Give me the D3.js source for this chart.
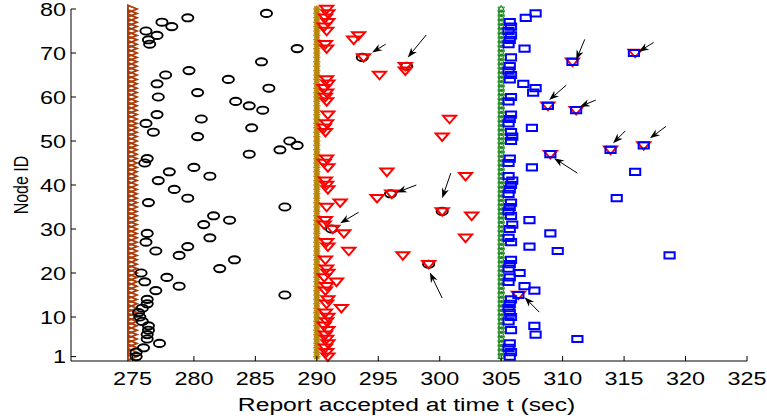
<!DOCTYPE html>
<meta charset="utf-8">
<script src="https://d3js.org/d3.v7.min.js"></script>
<style>
  body { margin: 0; background: #fff; }
  svg { display: block; }
  text { font-family: "Liberation Sans", Arial, sans-serif; fill: #000; }
</style>
<div id="chart"></div>
<script>
// time each round of reports was sent (every node sends at that time)
const roundStart = [275, 290, 305];
const nodeIds = d3.range(1, 81);

// time each node's report was accepted: [node, t]
const round1 = [
  [1,275.3],[2,275.3],[3,275.9],[4,277.2],[5,276.2],[6,276.2],[7,276.3],[8,276.3],[9,275.8],[10,275.6],
  [11,275.5],[12,275.8],[13,276.2],[14,276.2],[15,287.4],[16,276.9],[17,278.8],[18,276.0],[19,277.8],[20,275.7],
  [21,282.1],[22,299.1],[23,283.3],[24,278.8],[25,276.9],[26,279.5],[27,276.1],[28,281.3],[29,276.2],[30,291.2],
  [31,280.8],[32,282.9],[33,281.6],[34,300.2],[35,287.4],[36,276.3],[37,279.5],[38,296.0],[39,278.4],
  [41,277.1],[42,281.3],[43,278.0],[44,280.0],[45,276.0],[46,276.2],[47,284.5],[48,287.0],[49,288.4],[50,287.8],
  [51,280.3],[52,276.7],[53,284.7],[54,276.1],[55,280.6],[56,277.0],[57,285.6],[58,284.5],[59,283.4],[60,277.1],
  [61,280.3],[62,286.1],[63,277.0],[64,282.8],[65,277.7],[66,279.6],[67,297.3],[68,285.5],[69,293.7],
  [71,288.4],[72,276.4],[73,276.3],[74,277.0],[75,276.1],[76,278.2],[77,277.4],[78,279.5],[79,285.9]
];
const round2 = [
  [1,290.9],[2,290.8],[3,290.7],[4,290.9],[5,290.8],[6,290.7],[7,290.9],[8,290.6],[9,290.8],[10,290.9],
  [11,290.7],[12,292.0],[13,290.8],[14,290.9],[15,306.4],[16,290.7],[17,290.8],[18,291.6],[19,290.6],[20,290.9],
  [21,290.8],[22,299.1],[23,290.7],[24,297.0],[25,292.6],[26,290.9],[27,290.8],[28,302.1],[29,292.2],[30,291.3],
  [31,290.6],[32,290.7],[33,302.6],[34,300.2],[35,290.8],[36,291.9],[37,294.9],[38,296.1],[39,290.9],[40,290.8],
  [41,290.7],[42,302.1],[43,295.7],[44,290.9],[45,290.6],[46,290.8],[47,309.0],[48,313.9],[49,316.6],
  [51,300.2],[52,290.7],[53,290.6],[54,290.8],[55,300.8],[56,290.9],[57,311.1],[58,308.8],[59,290.8],[60,290.7],
  [61,290.8],[62,290.6],[63,290.9],[64,290.8],[65,295.1],[66,297.2],[67,297.2],[68,310.8],[69,293.8],[70,315.9],
  [71,290.8],[72,290.7],[73,293.0],[74,293.4],[75,290.8],[76,290.6],[77,290.9],[78,290.7],[79,290.9],[80,290.8]
];
const round3 = [
  [1,305.7],[2,305.8],[3,305.6],[4,305.7],[5,311.2],[6,307.8],[7,305.8],[8,307.7],[9,305.6],[10,305.8],
  [11,305.7],[12,305.6],[13,305.7],[14,305.8],[15,306.4],[16,307.7],[17,306.9],[18,305.6],[19,305.7],[20,306.5],
  [21,305.6],[22,305.7],[23,305.8],[24,318.7],[25,309.6],[26,307.3],[27,305.8],[28,305.6],[29,309.0],[30,305.7],
  [31,305.9],[32,307.3],[33,305.8],[34,305.6],[35,305.7],[36,305.8],[37,314.4],[38,305.6],[39,305.7],[40,305.8],
  [41,305.9],[42,305.6],[43,315.9],[44,307.5],[45,305.6],[46,305.7],[47,309.0],[48,313.9],[49,316.6],[50,305.8],
  [51,305.9],[52,305.8],[53,307.5],[54,305.6],[55,305.7],[56,305.8],[57,311.1],[58,308.8],[59,305.6],[60,305.8],
  [61,307.6],[62,307.8],[63,306.8],[64,305.7],[65,305.8],[66,305.6],[67,305.7],[68,310.8],[69,305.8],[70,315.8],
  [71,306.9],[72,305.6],[73,305.7],[74,305.8],[75,305.6],[76,305.8],[77,305.7],[78,307.0],[79,307.8]
];

// arrows pointing at overlapped reports: [tFrom, nodeFrom, tTo, nodeTo]
const arrows = [
  [295.6,72.0,294.5,70.1],[298.9,74.1,297.4,69.0],[298.1,40.0,296.5,38.3],[300.9,42.7,300.2,37.0],
  [293.4,33.8,291.9,31.3],[300.2,14.3,299.2,20.1],[311.8,73.1,311.1,68.4],[317.4,72.4,316.2,70.3],
  [310.3,62.7,308.9,59.3],[312.7,59.3,311.4,57.8],[315.1,52.3,314.1,49.5],[318.4,53.3,317.1,50.6],
  [311.2,42.7,309.3,46.1],[308.1,11.1,306.9,14.5]
];

const xTicks = [275, 280, 285, 290, 295, 300, 305, 310, 315, 320, 325];
const yTicks = [1, 10, 20, 30, 40, 50, 60, 70, 80];

const W = 767, H = 419;
const margin = {top: 9, right: 20, bottom: 58, left: 71};
const width = W - margin.left - margin.right,
      height = H - margin.top - margin.bottom;
const stretch = 1.3; // text in the picture is wider than tall

const svg = d3.select("#chart").append("svg")
    .attr("width", W).attr("height", H);
const g = svg.append("g")
    .attr("transform", "translate(" + margin.left + "," + margin.top + ")");

const x = d3.scaleLinear().domain([270, 325]).range([0, width]);
const y = d3.scaleLinear().domain([0, 80]).range([height, 0]);

// marker shapes (picture is stretched horizontally)
const tri_right = "M-4.5,-3.6L4.5,0L-4.5,3.6Z";
const tri_down = "M-6.5,-3.2L6.5,-3.2L0,4.3Z";
const square = "M-5.1,-3.1H5.1V3.1H-5.1Z";
const star = "M-3.6,0H3.6M0,-3.6V3.6M-2.6,-2.6L2.6,2.6M-2.6,2.6L2.6,-2.6";
const hexa = "M0,-3.8L3.3,1.9L-3.3,1.9ZM0,3.8L3.3,-1.9L-3.3,-1.9Z";

function sentColumn(t, shape, color, sw) {
  g.append("g").selectAll("path")
    .data(nodeIds)
    .join("path")
      .attr("d", shape)
      .attr("transform", d => "translate(" + x(t) + "," + y(d) + ")")
      .attr("fill", "none")
      .attr("stroke", color)
      .attr("stroke-width", sw);
}

function accepted(data, shape, color) {
  g.append("g").selectAll("path")
    .data(data)
    .join("path")
      .attr("d", shape)
      .attr("transform", d => "translate(" + x(d[1]) + "," + y(d[0]) + ")")
      .attr("fill", "none")
      .attr("stroke", color)
      .attr("stroke-width", 2);
}

// round 1
sentColumn(roundStart[0], tri_right, "#a83c0a", 1.8);
g.append("g").selectAll("ellipse")
  .data(round1)
  .join("ellipse")
    .attr("cx", d => x(d[1]))
    .attr("cy", d => y(d[0]))
    .attr("rx", 5.6).attr("ry", 3.6)
    .attr("fill", "none")
    .attr("stroke", "#000")
    .attr("stroke-width", 1.9);
// round 2
sentColumn(roundStart[1], star, "#b8860b", 1.6);
accepted(round2, tri_down, "#ff0000");
// round 3
sentColumn(roundStart[2], hexa, "#1f8a1f", 1);
accepted(round3, square, "#0000ff");

// arrows
const ag = g.append("g");
arrows.forEach(a => {
  const x1 = x(a[0]), y1 = y(a[1]), x2 = x(a[2]), y2 = y(a[3]);
  const ang = Math.atan2(y2 - y1, x2 - x1);
  const L = 10, Wd = 3.6, notch = 7;
  const bx = x2 - L * Math.cos(ang), by = y2 - L * Math.sin(ang);
  const nx = x2 - notch * Math.cos(ang), ny = y2 - notch * Math.sin(ang);
  const px = -Math.sin(ang) * Wd, py = Math.cos(ang) * Wd;
  ag.append("line")
    .attr("x1", x1).attr("y1", y1).attr("x2", nx).attr("y2", ny)
    .attr("stroke", "#000").attr("stroke-width", 1);
  ag.append("path")
    .attr("d", "M" + x2 + "," + y2 + "L" + (bx + px) + "," + (by + py) +
               "L" + nx + "," + ny + "L" + (bx - px) + "," + (by - py) + "Z")
    .attr("fill", "#000");
});

// axes (inward ticks)
const xAxis = g.append("g")
    .attr("transform", "translate(0," + height + ")");
xAxis.append("line").attr("x1", 0).attr("x2", width).attr("stroke", "#000");
xAxis.selectAll(".tk").data(xTicks).join("line")
    .attr("x1", d => x(d)).attr("x2", d => x(d))
    .attr("y1", 0).attr("y2", -5).attr("stroke", "#000");
xAxis.selectAll("text").data(xTicks).join("text")
    .attr("transform", d => "translate(" + x(d) + ",24) scale(" + stretch + ",1)")
    .attr("text-anchor", "middle")
    .style("font-size", "18px")
    .text(d => d);

const yAxis = g.append("g");
yAxis.append("line").attr("y1", 0).attr("y2", height).attr("stroke", "#000");
yAxis.selectAll(".tk").data(yTicks).join("line")
    .attr("y1", d => y(d)).attr("y2", d => y(d))
    .attr("x1", 0).attr("x2", 5).attr("stroke", "#000");
yAxis.selectAll("text").data(yTicks).join("text")
    .attr("transform", d => "translate(-5," + (y(d) + 6.5) + ") scale(" + stretch + ",1)")
    .attr("text-anchor", "end")
    .style("font-size", "18px")
    .text(d => d);

// axis titles
svg.append("text")
    .attr("transform", "translate(" + (margin.left + x(297.3)) + ",411) scale(" + stretch + ",1)")
    .attr("text-anchor", "middle")
    .style("font-size", "19px")
    .text("Report accepted at time t (sec)");
svg.append("text")
    .attr("transform", "translate(28," + (margin.top + height / 2) + ") scale(" + stretch + ",1) rotate(-90)")
    .attr("text-anchor", "middle")
    .style("font-size", "16px")
    .text("Node ID");
</script>
